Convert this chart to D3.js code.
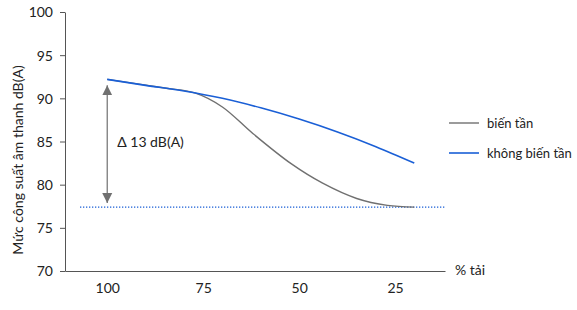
<!DOCTYPE html>
<html>
<head>
<meta charset="utf-8">
<script src="https://cdn.jsdelivr.net/npm/d3@7"></script>
<style>
  body { margin: 0; background: #fff; }
  text { font-family: Lato, "Open Sans", sans-serif; fill: #222; }
</style>
</head>
<body>
<div id="chart"></div>
<script>
// chart values
const loadTicks = [100, 75, 50, 25];
const levelTicks = [70, 75, 80, 85, 90, 95, 100];

const inverterLoad = [100, 85, 77, 70, 62, 52, 44, 35, 27, 20];
const inverterLevel = [92.2, 91.2, 90.6, 89.0, 85.9, 82.4, 80.2, 78.4, 77.6, 77.4];

const fixedLoad = [100, 90, 80, 70, 60, 50, 40, 30, 20];
const fixedLevel = [92.2, 91.5, 90.85, 90.0, 88.9, 87.6, 86.1, 84.4, 82.5];

const floorLevel = 77.4;
const deltaLabel = "\u0394 13 dB(A)";
const seriesNames = ["biến tần", "không biến tần"];
const yTitle = "Mức công suất âm thanh dB(A)";
const xTitle = "% tải";

const width = 577;
const height = 310;
const gray = "#707070";
const blue = "#1a5fd6";
const fs = "14px";

const svg = d3
  .select("#chart")
  .append("svg")
  .attr("width", width)
  .attr("height", height);

const xScale = d3.scaleLinear().domain([111, 12]).range([65, 445]);
const yScale = d3.scaleLinear().domain([70, 100]).range([271, 12]);

// y axis
const yaxis = d3.axisLeft(yScale).tickValues(levelTicks).tickSize(5).tickSizeOuter(0);
const gy = svg.append("g").attr("transform", "translate(65,0)").call(yaxis);
gy.select(".domain").attr("stroke", "#555");
gy.selectAll(".tick line").attr("stroke", "#555");
gy.selectAll("text").style("font-size", fs).attr("x", -12).attr("dy", "0.35em");

// x axis (no tick marks)
const xaxis = d3.axisBottom(xScale).tickValues(loadTicks).tickSize(0).tickSizeOuter(0);
const gx = svg.append("g").attr("transform", "translate(0,271)").call(xaxis);
gx.select(".domain").attr("stroke", "#555");
gx.selectAll("text").style("font-size", fs).attr("y", 12);

svg
  .append("text")
  .attr("x", 455)
  .attr("y", 275)
  .style("font-size", fs)
  .text(xTitle);

svg
  .append("text")
  .attr("transform", "translate(23,160) rotate(-90)")
  .attr("text-anchor", "middle")
  .style("font-size", fs)
  .text(yTitle);

// dotted floor line
svg
  .append("line")
  .attr("x1", 80)
  .attr("x2", 445)
  .attr("y1", yScale(floorLevel))
  .attr("y2", yScale(floorLevel))
  .attr("stroke", blue)
  .attr("stroke-width", 1.3)
  .attr("stroke-dasharray", "1.3,1.7");

// delta arrow
const defs = svg.append("defs");
defs
  .append("marker")
  .attr("id", "head")
  .attr("viewBox", "0 0 10 10")
  .attr("refX", 10)
  .attr("refY", 5)
  .attr("markerWidth", 10)
  .attr("markerHeight", 12)
  .attr("markerUnits", "userSpaceOnUse")
  .attr("orient", "auto-start-reverse")
  .append("path")
  .attr("d", "M0,0L10,5L0,10Z")
  .attr("fill", gray);

svg
  .append("line")
  .attr("x1", xScale(100))
  .attr("x2", xScale(100))
  .attr("y1", yScale(fixedLevel[0]) + 6)
  .attr("y2", yScale(floorLevel) - 4)
  .attr("stroke", gray)
  .attr("stroke-width", 1.2)
  .attr("marker-start", "url(#head)")
  .attr("marker-end", "url(#head)");

svg
  .append("text")
  .attr("x", xScale(100) + 10)
  .attr("y", 147)
  .style("font-size", fs)
  .text(deltaLabel);

// series lines
const line = d3
  .line()
  .x((d) => xScale(d[0]))
  .y((d) => yScale(d[1]))
  .curve(d3.curveMonotoneX);

svg
  .append("path")
  .datum(d3.zip(inverterLoad, inverterLevel))
  .attr("fill", "none")
  .attr("stroke", gray)
  .attr("stroke-width", 1.4)
  .attr("d", line.curve(d3.curveCatmullRom.alpha(0.5)));

svg
  .append("path")
  .datum(d3.zip(fixedLoad, fixedLevel))
  .attr("fill", "none")
  .attr("stroke", blue)
  .attr("stroke-width", 1.6)
  .attr("d", line.curve(d3.curveMonotoneX));

// legend
const colors = [gray, blue];
seriesNames.forEach((name, i) => {
  const y = 123 + i * 30;
  svg
    .append("line")
    .attr("x1", 449)
    .attr("x2", 479)
    .attr("y1", y)
    .attr("y2", y)
    .attr("stroke", colors[i])
    .attr("stroke-width", i ? 1.6 : 1.4);
  svg
    .append("text")
    .attr("x", 487)
    .attr("y", y + 5)
    .style("font-size", "13px")
    .text(name);
});
</script>
</body>
</html>
